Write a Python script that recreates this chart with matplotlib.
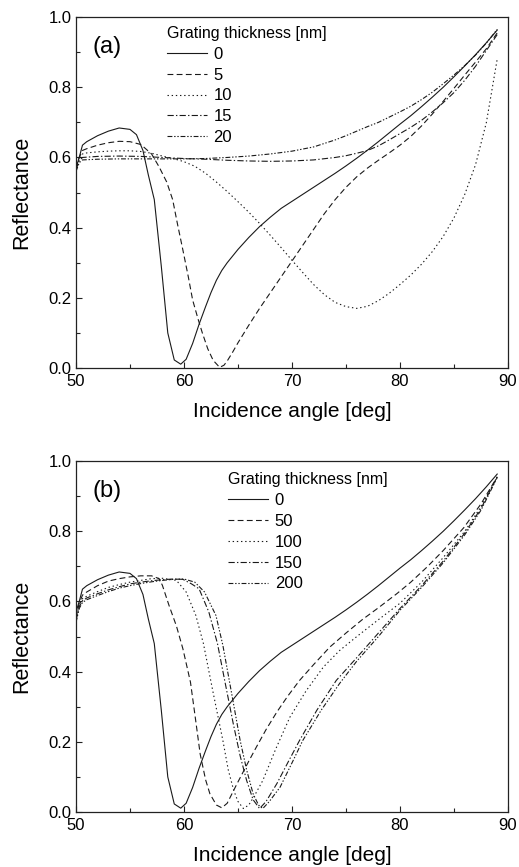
import matplotlib
matplotlib.use("Agg")
import matplotlib.pyplot as plt
from matplotlib.ticker import MultipleLocator

plt.rcParams['font.family'] = ['Liberation Sans', 'DejaVu Sans']
plt.rcParams['lines.scale_dashes'] = False

# ---------------- Panel (a) data ----------------
a0_x = [50.0, 50.3, 50.6, 51, 52, 53, 54, 55, 55.6, 56.2, 56.7, 57.25, 57.9, 58.5, 59.1, 59.7,
        60.2, 60.8, 61.4, 62, 62.5, 63, 63.5, 64, 65, 66, 67, 68, 69, 70, 71, 72, 73, 74, 75,
        76, 77, 78, 79, 80, 81, 82, 83, 84, 85, 86, 87, 88, 89]
a0_y = [0.57, 0.60, 0.635, 0.645, 0.662, 0.675, 0.684, 0.68, 0.665, 0.62, 0.55, 0.48, 0.29,
        0.10, 0.023, 0.011, 0.025, 0.07, 0.125, 0.175, 0.215, 0.25, 0.278, 0.30, 0.338,
        0.372, 0.403, 0.43, 0.455, 0.475, 0.495, 0.515, 0.535, 0.555, 0.576, 0.598, 0.621,
        0.645, 0.67, 0.695, 0.719, 0.745, 0.772, 0.80, 0.83, 0.861, 0.893, 0.927, 0.963]

a5_x = [50.0, 50.3, 50.6, 51, 52, 53, 54, 55, 56, 57, 57.7, 58.4, 58.95, 59.4, 59.9, 60.4, 60.8,
        61.3, 61.7, 62.2, 62.7, 63.3, 63.7, 64, 64.5, 65, 66, 67, 68, 69, 70, 71, 72, 73, 74,
        75, 76, 77, 78, 79, 80, 81, 82, 83, 84, 85, 86, 87, 88, 89]
a5_y = [0.57, 0.60, 0.62, 0.625, 0.635, 0.642, 0.646, 0.645, 0.637, 0.61, 0.573, 0.53, 0.48,
        0.41, 0.336, 0.26, 0.194, 0.14, 0.10, 0.055, 0.022, 0.002, 0.008, 0.02, 0.045, 0.072,
        0.122, 0.17, 0.215, 0.26, 0.305, 0.35, 0.395, 0.44, 0.48, 0.515, 0.545, 0.57, 0.592,
        0.613, 0.635, 0.66, 0.69, 0.724, 0.76, 0.797, 0.835, 0.872, 0.91, 0.955]

a10_x = [50.0, 50.3, 50.6, 51, 52, 53, 54, 55, 56, 57, 58, 59, 60, 61, 62, 63, 64, 65, 66,
         67, 68, 69, 70, 71, 72, 73, 74, 75, 76, 77, 78, 79, 80, 81, 82, 83, 84, 85, 86, 87,
         88, 89]
a10_y = [0.565, 0.595, 0.61, 0.613, 0.616, 0.618, 0.619, 0.619, 0.617, 0.612, 0.604, 0.597,
         0.588, 0.575, 0.555, 0.53, 0.503, 0.474, 0.444, 0.412, 0.378, 0.343, 0.307, 0.272,
         0.238, 0.209, 0.187, 0.175, 0.17, 0.176, 0.192, 0.213, 0.238, 0.265, 0.296, 0.332,
         0.375, 0.428, 0.495, 0.58, 0.70, 0.88]

a15_x = [50.0, 50.3, 50.6, 52, 54, 56, 58, 60, 62, 64, 66, 68, 70, 72, 74, 75, 76, 77, 78,
         79, 80, 81, 82, 83, 84, 85, 86, 87, 88, 89]
a15_y = [0.565, 0.59, 0.60, 0.603, 0.604, 0.603, 0.60, 0.597, 0.595, 0.592, 0.59, 0.589,
         0.59, 0.593, 0.60, 0.605, 0.612, 0.62, 0.633, 0.65, 0.668, 0.686, 0.706, 0.73,
         0.756, 0.785, 0.82, 0.86, 0.905, 0.95]

a20_x = [50.0, 50.3, 50.6, 52, 54, 56, 58, 60, 62, 64, 66, 68, 70, 72, 73, 74, 75, 76, 77,
         78, 79, 80, 81, 82, 83, 84, 85, 86, 87, 88, 89]
a20_y = [0.56, 0.585, 0.593, 0.595, 0.596, 0.596, 0.596, 0.596, 0.597, 0.60, 0.604, 0.61,
         0.618, 0.63, 0.64, 0.65, 0.662, 0.675, 0.688, 0.70, 0.715, 0.73, 0.746, 0.765,
         0.786, 0.81, 0.835, 0.862, 0.892, 0.926, 0.965]

# ---------------- Panel (b) data ----------------
b0_x = a0_x
b0_y = a0_y

b50_x = [50.0, 50.3, 50.6, 51, 52, 53, 54, 55, 56, 57, 57.7, 58.0, 58.6, 59.3, 59.9, 60.6,
         61.0, 61.5, 62.0, 62.4, 63.0, 63.5, 64.0, 64.9, 66.0, 66.7, 67.6, 68.6, 69.6, 70.7,
         72, 73.5, 75, 76.5, 78, 79.7, 81, 82.5, 84, 85.9, 87.5, 89]
b50_y = [0.555, 0.595, 0.618, 0.627, 0.645, 0.658, 0.665, 0.67, 0.673, 0.673, 0.665, 0.646,
         0.59, 0.53, 0.465, 0.37, 0.28, 0.165, 0.092, 0.052, 0.02, 0.012, 0.025, 0.08, 0.145,
         0.185, 0.235, 0.285, 0.33, 0.375, 0.42, 0.47, 0.51, 0.548, 0.582, 0.622, 0.655,
         0.698, 0.745, 0.81, 0.878, 0.955]

b100_x = [50.0, 50.3, 50.6, 51, 52, 53, 54, 55, 56, 57, 58, 59.3, 60.2, 61.1, 61.8, 62.7,
          63.6, 64.1, 64.6, 65.0, 65.5, 66.0, 66.5, 67.3, 68.5, 69.8, 71.3, 72.9, 74.4, 76,
          78, 80, 82, 84, 86, 87.5, 89]
b100_y = [0.55, 0.59, 0.608, 0.615, 0.628, 0.64, 0.648, 0.655, 0.66, 0.665, 0.666, 0.66,
          0.627, 0.56, 0.48, 0.34, 0.204, 0.12, 0.062, 0.03, 0.01, 0.02, 0.045, 0.09, 0.18,
          0.27, 0.345, 0.413, 0.46, 0.50, 0.548, 0.595, 0.655, 0.725, 0.80, 0.87, 0.955]

b150_x = [50.0, 50.3, 50.6, 51, 52, 53, 54, 55, 56, 57, 58, 59, 59.9, 60.7, 61.4, 62.3, 63.1,
          63.8, 64.56, 65.2, 65.8, 66.4, 67.0, 67.6, 68.6, 69.6, 70.7, 72.3, 74.1, 76, 78,
          80, 82, 84, 86, 87.5, 89]
b150_y = [0.545, 0.585, 0.602, 0.61, 0.622, 0.633, 0.642, 0.65, 0.655, 0.659, 0.662, 0.664,
          0.663, 0.65, 0.636, 0.57, 0.48, 0.37, 0.252, 0.16, 0.09, 0.035, 0.01, 0.03, 0.081,
          0.14, 0.204, 0.29, 0.375, 0.44, 0.51, 0.58, 0.645, 0.715, 0.795, 0.865, 0.955]

b200_x = [50.0, 50.3, 50.6, 51, 52, 53, 54, 55, 56, 57, 58, 59, 60, 61, 61.9, 62.96, 63.6,
          64.4, 65.2, 65.8, 66.4, 66.9, 67.3, 67.9, 68.9, 70, 71.0, 72.7, 74.4, 76, 78, 80,
          82, 84, 86, 87.5, 89]
b200_y = [0.54, 0.58, 0.597, 0.605, 0.617, 0.628, 0.638, 0.645, 0.651, 0.656, 0.66, 0.663,
          0.664, 0.655, 0.627, 0.56, 0.475, 0.34, 0.204, 0.12, 0.052, 0.02, 0.01, 0.03, 0.071,
          0.14, 0.204, 0.29, 0.366, 0.43, 0.50, 0.575, 0.64, 0.71, 0.79, 0.86, 0.953]

labels_a = ['0', '5', '10', '15', '20']
labels_b = ['0', '50', '100', '150', '200']
legend_title = 'Grating thickness [nm]'
xticks = [50, 60, 70, 80, 90]
yticks = [0.0, 0.2, 0.4, 0.6, 0.8, 1.0]

styles = ['-', (0, (4.2, 2.4)), (0, (1.0, 2.0)), (0, (4.5, 1.6, 1.0, 1.6)),
          (0, (3.5, 1.3, 1.0, 1.3, 1.0, 1.3))]
lc = '#1a1a1a'
lw = 0.8

fig = plt.figure(figsize=(5.19, 8.67), dpi=100)
ax1 = fig.add_axes([0.1464, 0.5755, 0.8324, 0.4048])
ax2 = fig.add_axes([0.1464, 0.0634, 0.8324, 0.4048])

def style_axes(ax, tag):
    ax.set_xlim(50, 90)
    ax.set_ylim(0, 1.0)
    ax.set_xticks(xticks)
    ax.set_yticks(yticks)
    ax.set_yticklabels([f'{v:.1f}' for v in yticks])
    ax.xaxis.set_minor_locator(MultipleLocator(5))
    ax.yaxis.set_minor_locator(MultipleLocator(0.1))
    ax.tick_params(which='both', direction='in', labelsize=12, color='#222222')
    ax.tick_params(which='major', length=4.5, width=0.8)
    ax.tick_params(axis='x', which='major', pad=4)
    ax.tick_params(axis='y', which='major', pad=3)
    ax.tick_params(which='minor', length=3, width=0.8)
    for s in ax.spines.values():
        s.set_linewidth(0.9)
        s.set_color('#222222')
    ax.set_xlabel('Incidence angle [deg]', fontsize=15, labelpad=10)
    ax.set_ylabel('Reflectance', fontsize=15.5, labelpad=12)
    ax.text(0.039, 0.915, tag, transform=ax.transAxes, fontsize=17, va='center', ha='left')

series_a = [(a0_x, a0_y), (a5_x, a5_y), (a10_x, a10_y), (a15_x, a15_y), (a20_x, a20_y)]
series_b = [(b0_x, b0_y), (b50_x, b50_y), (b100_x, b100_y), (b150_x, b150_y), (b200_x, b200_y)]

for (x, y), ls, lab in zip(series_a, styles, labels_a):
    ax1.plot(x, y, linestyle=ls, color=lc, lw=lw, label=lab)
for (x, y), ls, lab in zip(series_b, styles, labels_b):
    ax2.plot(x, y, linestyle=ls, color=lc, lw=lw, label=lab)

style_axes(ax1, '(a)')
style_axes(ax2, '(b)')

for ax, anchor in [(ax1, (0.21, 0.975)), (ax2, (0.352, 0.968))]:
    leg = ax.legend(loc='upper left', bbox_to_anchor=anchor, frameon=False,
                    title=legend_title, title_fontsize=11.5, fontsize=12,
                    alignment='left', borderpad=0, borderaxespad=0,
                    handlelength=2.4, handletextpad=0.4, labelspacing=0.35)

fig.savefig('out.png', dpi=100)
